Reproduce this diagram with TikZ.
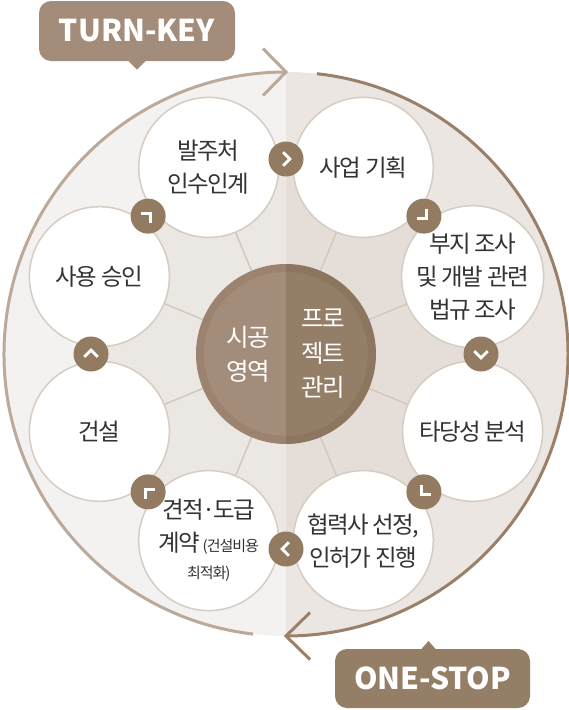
\documentclass[tikz,border=0pt]{standalone}
\usepackage{fontspec}
\setmainfont{Noto Sans CJK KR}[LetterSpace=-7]
\newfontfamily\tagfont{Noto Sans CJK KR}[LetterSpace=0]
\usetikzlibrary{calc}
\pgfdeclarelayer{disk}
\pgfdeclarelayer{spokes}
\pgfsetlayers{disk,spokes,main}
\definecolor{lightL}{HTML}{F4F2F0}
\definecolor{lightR}{HTML}{EBE6E1}
\definecolor{innerL}{HTML}{EBE7E3}
\definecolor{innerR}{HTML}{E5DED8}
\definecolor{spokec}{HTML}{D3C8BE}
\definecolor{ringc}{HTML}{D6CCC2}
\definecolor{badgec}{HTML}{937B62}
\definecolor{ctrL}{HTML}{A48C7B}
\definecolor{ctrLring}{HTML}{9B836F}
\definecolor{ctrR}{HTML}{957E67}
\definecolor{ctrRring}{HTML}{8D765F}
\definecolor{arcL}{HTML}{BBA999}
\definecolor{arcR}{HTML}{9A8068}
\definecolor{turnc}{HTML}{A48C7B}
\definecolor{onec}{HTML}{957E66}
\definecolor{txt}{HTML}{333333}
\begin{document}
\begin{tikzpicture}[x=1pt,y=-1pt,
  stage/.style={circle, minimum size=140pt, inner sep=0pt, fill=white, draw=ringc,
    line width=1.5pt, align=center, text=txt, font=\fontsize{23.5}{33}\selectfont},
  badge/.style={circle, minimum size=35pt, inner sep=0pt, fill=badgec},
  chev/.style={white, line width=2.8pt, line join=miter, line cap=butt},
  spoke/.style={spokec, line width=1.5pt},
  tagbox/.style={rounded corners=12pt, inner sep=0pt, text=white,
    font=\tagfont\bfseries\fontsize{30}{30}\selectfont},
  ctrtext/.style={align=center, text=white, inner sep=0pt, font=\fontsize{24.5}{34.5}\selectfont}]
\useasboundingbox (0,0) rectangle (569,710);
\coordinate (C) at (286,354);
% background disk
\begin{pgfonlayer}{disk}
\begin{scope}
  \clip (0,0) rectangle (286,710);
  \fill[lightL] (C) circle (282);
  \fill[innerL] (C) circle (190);
\end{scope}
\begin{scope}
  \clip (286,0) rectangle (569,710);
  \fill[lightR] (C) circle (282);
  \fill[innerR] (C) circle (190);
\end{scope}
\end{pgfonlayer}
% central circle
\begin{scope}
  \clip (0,0) rectangle (286,710);
  \fill[ctrLring] (C) circle (90);
  \fill[ctrL] (C) circle (82);
\end{scope}
\begin{scope}
  \clip (286,0) rectangle (569,710);
  \fill[ctrRring] (C) circle (90);
  \fill[ctrR] (C) circle (82);
\end{scope}
\node[circle, minimum size=180pt, inner sep=0pt] (ctr) at (C) {};
\node[ctrtext] (ctrl) at (248,354.5) {시공\\영역};
\node[ctrtext] (ctrr) at (323,354) {프로\\젝트\\관리};
% stage circles
\node[stage] (s1) at ($(C)+(-67.5:202)$) {사업 기획};
\node[stage] (s2) at ($(C)+(-22.5:202)$) {부지 조사\\및 개발 관련\\법규 조사};
\node[stage] (s3) at ($(C)+(22.5:202)$) {타당성 분석};
\node[stage] (s4) at ($(C)+(67.5:202)$) {협력사 선정,\\인허가 진행};
\node[stage] (s5) at ($(C)+(112.5:202)$) {견적·도급\\계약{\fontsize{15}{20}\selectfont\,(건설비용}\\[-6pt]{\fontsize{15}{20}\selectfont 최적화)}};
\node[stage] (s6) at ($(C)+(157.5:202)$) {건설};
\node[stage] (s7) at ($(C)+(202.5:202)$) {사용 승인};
\node[stage] (s8) at ($(C)+(247.5:202)$) {발주처\\인수인계};
% spokes
\begin{pgfonlayer}{spokes}
\foreach \i in {1,...,8} { \draw[spoke] (ctr.center) -- (s\i.center); }
\end{pgfonlayer}
% badges with chevrons
\foreach \i/\a in {1/-90,2/-45,3/0,4/45,5/90,6/135,7/180,8/225} {
  \node[badge] (b\i) at ($(C)+(\a:195)$) {};
  \pgfmathsetmacro{\d}{\a+90}
  \pgfmathsetmacro{\dl}{\a+90+135}
  \pgfmathsetmacro{\dr}{\a+90-135}
  \draw[chev] ($(b\i)+(\d:3.8)+(\dl:9.5)$) -- ($(b\i)+(\d:3.8)$) -- ($(b\i)+(\d:3.8)+(\dr:9.5)$);
}
% outer arcs
\coordinate (tkstart) at ($(C)+(96.7:282)$);
\coordinate (tktip) at ($(C)+(270:282)$);
\coordinate (osstart) at ($(C)+(-83.7:282)$);
\coordinate (ostip) at ($(C)+(90:282)$);
\draw[arcL, line width=3pt] (tkstart) arc[start angle=96.7, end angle=270, radius=282];
\draw[arcL, line width=3pt, line join=miter] ($(tktip)+(-23,-23.5)$) -- (tktip) -- ($(tktip)+(-23,23.5)$);
\draw[arcR, line width=3pt] (osstart) arc[start angle=-83.7, end angle=90, radius=282];
\draw[arcR, line width=3pt, line join=miter] ($(ostip)+(24,-23.5)$) -- (ostip) -- ($(ostip)+(24,23.5)$);
% callouts
\node[tagbox, fill=turnc, minimum width=196pt, minimum height=60pt] (turnkey) at (137,31) {TURN-KEY};
\fill[turnc] (127.5,60) -- (137,69.5) -- (146.5,60) -- cycle;
\node[tagbox, fill=onec, minimum width=195pt, minimum height=59pt] (onestop) at (432.5,678.5) {ONE-STOP};
\fill[onec] (420.5,650) -- (428.5,641) -- (436.5,650) -- cycle;
\end{tikzpicture}
\end{document}
